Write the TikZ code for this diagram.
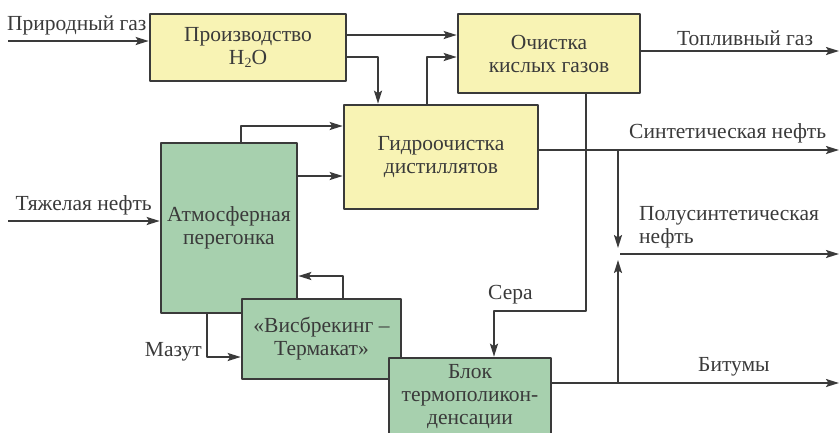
\documentclass[tikz,border=0pt]{standalone}
\usepackage{fontspec}
\setmainfont{Liberation Serif}
\usetikzlibrary{arrows.meta}
\definecolor{boxyellow}{HTML}{F8F3B4}
\definecolor{boxgreen}{HTML}{A7D0AE}
\definecolor{linegray}{HTML}{3A3A3A}
\newcommand{\lowtwo}{\raisebox{-0.35ex}{\fontsize{14}{14}\selectfont 2}}
\begin{document}
\begin{tikzpicture}[x=1pt,y=-1pt,line join=round,
	>={Stealth[length=13pt,width=8pt,inset=2.5pt]},
	yblock/.style={draw=linegray,line width=2.6pt,fill=boxyellow,align=center,inner sep=0pt,
		text=linegray,font=\fontsize{21.5}{23}\selectfont},
	gblock/.style={draw=linegray,line width=2.6pt,fill=boxgreen,align=center,inner sep=0pt,
		text=linegray,font=\fontsize{21.5}{23}\selectfont},
	flow/.style={draw=linegray,line width=1.9pt,->},
	lbl/.style={text=linegray,inner sep=0pt,font=\fontsize{21.5}{23}\selectfont}]
	\useasboundingbox (0,0) rectangle (839,432);
	% blocks
	\node[yblock,minimum width=196pt,minimum height=67pt] (prod) at (248,47.5) {Производство\\H\lowtwo O};
	\node[yblock,minimum width=182pt,minimum height=79pt] (ochist) at (549,53.5) {Очистка\\кислых газов};
	\node[yblock,minimum width=194pt,minimum height=104pt] (gidro) at (441,157) {Гидроочистка\\дистиллятов};
	\node[gblock,minimum width=136pt,minimum height=170pt] (atm) at (229,228) {Атмосферная\\перегонка};
	\node[gblock,minimum width=159pt,minimum height=80pt] (visb) at (321.5,339) {«Висбрекинг –\\Термакат»};
	\node[gblock,minimum width=162pt,minimum height=78pt] (blok) at (470,397) {Блок\\термополикон-\\денсации};
	% inputs
	\coordinate (gasin) at (8,41);
	\coordinate (oilin) at (8,221);
	\draw[flow] (gasin) -- (gasin -| prod.west);
	\node[lbl,anchor=west] (gaslbl) at (7,25) {Природный газ};
	\draw[flow] (oilin) -- (oilin -| atm.west);
	\node[lbl,anchor=east] (oillbl) at (152,205) {Тяжелая нефть};
	% internal flows
	\draw[flow] (prod.east |- 0,35) -- (ochist.west |- 0,35);
	\draw[flow] (prod.east |- 0,57) -| (378,0 |- gidro.north);
	\draw[flow] (427,0 |- gidro.north) |- (ochist.west |- 0,57);
	\draw[flow] (241,0 |- atm.north) |- (gidro.west |- 0,126);
	\draw[flow] (atm.east |- 0,176) -- (gidro.west |- 0,176);
	\draw[flow] (343,0 |- visb.north) |- (atm.east |- 0,276);
	\draw[flow] (207,0 |- atm.south) |- (visb.west |- 0,357);
	\node[lbl,anchor=east] (mazlbl) at (202,352) {Мазут};
	\draw[flow] (586,0 |- ochist.south) |- (494,311) -- (494,0 |- blok.north);
	\node[lbl,anchor=west] (seralbl) at (488,295) {Сера};
	% outputs
	\coordinate (fuelout) at (839,51);
	\coordinate (synout) at (839,150);
	\coordinate (semiout) at (839,254);
	\coordinate (bitout) at (839,383);
	\coordinate (split) at (618,150);
	\coordinate (semidown) at (618,248);
	\coordinate (semiup) at (618,260);
	\coordinate (semistart) at (620,254);
	\coordinate (bitsplit) at (618,383);
	\draw[flow] (ochist.east |- fuelout) -- (fuelout);
	\node[lbl,anchor=west] (fuellbl) at (677,38) {Топливный газ};
	\draw[flow] (gidro.east |- synout) -- (synout);
	\node[lbl,anchor=west] (synlbl) at (629,133) {Синтетическая нефть};
	\draw[flow] (split) -- (semidown);
	\draw[flow] (semistart) -- (semiout);
	\node[lbl,anchor=west,align=left] (semilbl) at (639,227) {Полусинтетическая\\нефть};
	\draw[flow] (blok.east |- bitout) -- (bitout);
	\node[lbl,anchor=west] (bitlbl) at (698,367) {Битумы};
	\draw[flow] (bitsplit) -- (semiup);
\end{tikzpicture}
\end{document}
